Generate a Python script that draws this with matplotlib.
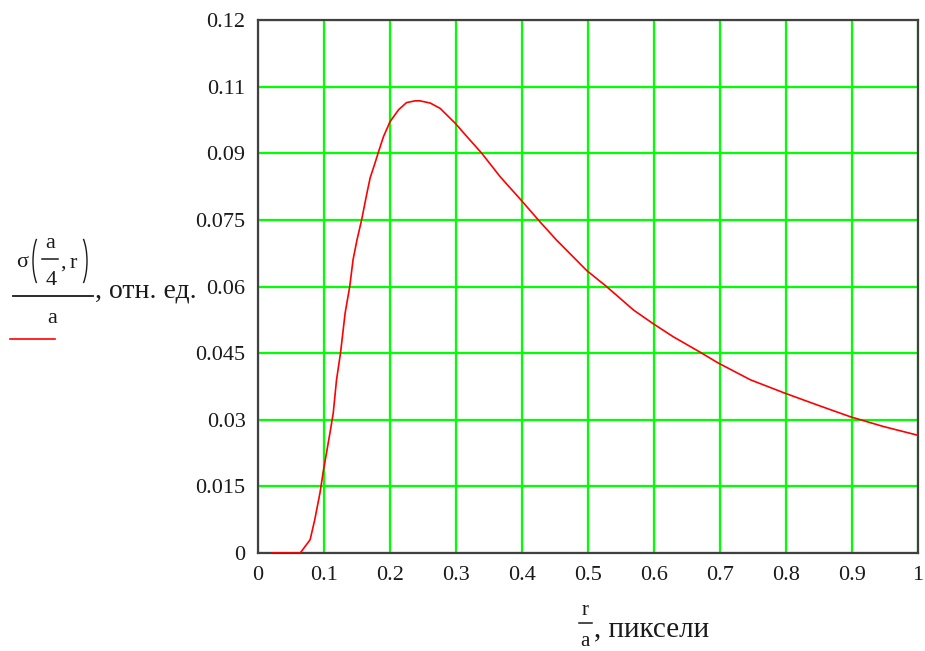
import numpy as np
import matplotlib.pyplot as plt
from matplotlib.patches import Arc
from matplotlib.lines import Line2D

plt.rcParams['font.family'] = ['Liberation Serif', 'DejaVu Serif']

# curve
r = [0.021, 0.064, 0.079, 0.086, 0.094, 0.0985, 0.109, 0.114, 0.119, 0.125,
     0.132, 0.139, 0.144, 0.150, 0.157, 0.165, 0.170, 0.176, 0.183, 0.190,
     0.200, 0.213, 0.225, 0.238, 0.2455, 0.261, 0.276, 0.2985, 0.321, 0.339,
     0.367, 0.3995, 0.427, 0.452, 0.498, 0.528, 0.569, 0.599, 0.629, 0.670,
     0.697, 0.746, 0.798, 0.846, 0.897, 0.947, 1.0]
sigma = [0.0, 0.0, 0.003, 0.0075, 0.0136, 0.018, 0.027, 0.0315, 0.039, 0.045,
         0.054, 0.060, 0.0660, 0.0705, 0.075, 0.0810, 0.0845, 0.0872, 0.0905, 0.0937,
         0.0971, 0.0998, 0.1014, 0.1018, 0.1018, 0.1013, 0.1001, 0.0968, 0.093, 0.0900,
         0.0847, 0.0793, 0.0746, 0.0705, 0.0636, 0.060, 0.0547, 0.0516, 0.0487, 0.0452,
         0.0428, 0.039, 0.036, 0.0334, 0.0307, 0.0285, 0.0265]

xticks = [0, 0.1, 0.2, 0.3, 0.4, 0.5, 0.6, 0.7, 0.8, 0.9, 1]
xlabels = ["0", "0.1", "0.2", "0.3", "0.4", "0.5", "0.6", "0.7", "0.8", "0.9", "1"]
yticks = [0, 0.015, 0.03, 0.045, 0.06, 0.075, 0.09, 0.105, 0.12]
ylabels = ["0", "0.015", "0.03", "0.045", "0.06", "0.075", "0.09", "0.11", "0.12"]

W, H = 925, 651
fig = plt.figure(figsize=(W / 100, H / 100), dpi=100)
ax = fig.add_axes([258 / W, 1 - 553 / H, 660 / W, 533 / H])

ax.plot(r, sigma, color="#ff0000", lw=1.2, zorder=3)

ax.set_xlim(0, 1)
ax.set_ylim(0, 0.12)
ax.set_xticks(xticks)
ax.set_xticklabels(xlabels)
ax.set_yticks(yticks)
ax.set_yticklabels(ylabels)
ax.tick_params(length=0, labelsize=16, pad=9, labelcolor="#1a1a1a")
ax.grid(True, color="#00ff00", lw=1.6)
for s in ax.spines.values():
    s.set_color("#404040")
    s.set_linewidth(1.6)

ink = "#1a1a1a"


# label pieces placed in pixel coordinates measured from the top-left corner
def txt(x, y, s, fs, ha="center"):
    fig.text(x / W, 1 - y / H, s, fontsize=fs, ha=ha, va="baseline",
             color=ink)


def hbar(x0, x1, y, color=ink, lw=1.3):
    fig.lines.append(Line2D([x0 / W, x1 / W], [1 - y / H, 1 - y / H],
                            color=color, lw=lw, transform=fig.transFigure))


def paren(cx, cy, w, h, t1, t2):
    fig.patches.append(Arc((cx / W, 1 - cy / H), w / W, h / H, theta1=t1,
                           theta2=t2, color=ink, lw=1.0,
                           transform=fig.transFigure))


# y label: sigma(a/4, r) / a, отн. ед.
txt(22, 267, "σ", 16)
paren(45, 261, 24, 62, 105, 255)
txt(50, 248, "a", 16)
hbar(42, 58, 259, lw=1.1)
txt(51, 285, "4", 16)
txt(63, 268, ",", 16)
txt(73, 268, "r", 16)
paren(75, 261, 24, 62, -75, 75)
hbar(13, 93, 296)
txt(52, 323, "a", 16)
txt(95, 298, ", отн. ед.", 20, ha="left")
hbar(10, 55, 339, color="#ff0000", lw=1.2)

# x label: r / a, пиксели
txt(585, 615, "r", 15)
hbar(579, 592, 623, lw=1.1)
txt(585, 646, "a", 15)
txt(594, 636, ", пиксели", 21, ha="left")

plt.savefig("out.png", dpi=100)
